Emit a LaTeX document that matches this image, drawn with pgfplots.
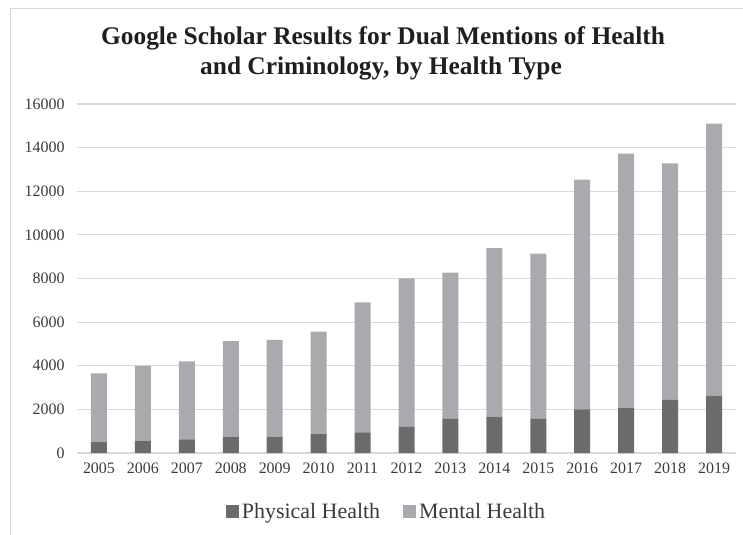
\documentclass[border=0pt]{standalone}
\usepackage{pgfplots}
\pgfplotsset{compat=1.18}
\usepackage{pgfplotstable}
\usepackage{fontspec}
\setmainfont{Liberation Serif}
\definecolor{phys}{HTML}{6B6B6E}
\definecolor{ment}{HTML}{A9AAAD}
\definecolor{gridc}{HTML}{D9D9D9}
\definecolor{txt}{HTML}{3A3A3A}
\pgfplotstableread{
x year phys ment
0 2005 500 3150
1 2006 570 3430
2 2007 630 3570
3 2008 750 4380
4 2009 750 4440
5 2010 870 4700
6 2011 950 5950
7 2012 1200 6800
8 2013 1560 6710
9 2014 1640 7750
10 2015 1560 7580
11 2016 2000 10530
12 2017 2060 11660
13 2018 2440 10840
14 2019 2630 12470
}\datatab
\begin{document}
\begin{tikzpicture}
\path[use as bounding box] (-77bp,-82bp) rectangle (666bp,453bp);
\draw[gridc, line width=1bp] (-66bp,-90bp) -- (-66bp,444bp) -- (700bp,444bp);
\begin{axis}[
  scale only axis,
  width=659bp, height=349bp,
  ybar stacked, bar width=16bp,
  xmin=-0.5, xmax=14.5, ymin=0, ymax=16000,
  xtick=data,
  xticklabels={2005,2006,2007,2008,2009,2010,2011,2012,2013,2014,2015,2016,2017,2018,2019},
  ytick={0,2000,4000,6000,8000,10000,12000,14000,16000},
  /pgf/number format/assume math mode=true,
  scaled y ticks=false,
  yticklabel style={/pgf/number format/set thousands separator={}, xshift=-9bp},
  xticklabel style={yshift=-6bp},
  ticklabel style={font=\fontsize{16}{19}\selectfont, text=txt},
  tick style={draw=none},
  axis line style={draw=none},
  ymajorgrids,
  major grid style={gridc, line width=1.2bp},
  legend columns=2,
  legend style={at={(rel axis cs:0.469,0)}, anchor=center, yshift=-58.5bp, draw=none, fill=none,
    font=\fontsize{22}{26}\selectfont, text=txt,
    /tikz/every even column/.append style={column sep=22bp},
    nodes={inner sep=1bp}},
  legend image code/.code={\fill[#1] (0bp,-6.5bp) rectangle (13bp,6.5bp); \path (15bp,0bp);},
]
\addplot[fill=phys, draw=none] table[x=x, y=phys] {\datatab};
\addlegendentry{Physical Health}
\addplot[fill=ment, draw=none] table[x=x, y=ment] {\datatab};
\addlegendentry{Mental Health}
\end{axis}
\node[anchor=base, font=\bfseries\fontsize{25.5}{30}\selectfont, text=black!88] at (306bp,408bp) {Google Scholar Results for Dual Mentions of Health};
\node[anchor=base, font=\bfseries\fontsize{25.5}{30}\selectfont, text=black!88] at (304bp,378bp) {and Criminology, by Health Type};
\end{tikzpicture}
\end{document}
